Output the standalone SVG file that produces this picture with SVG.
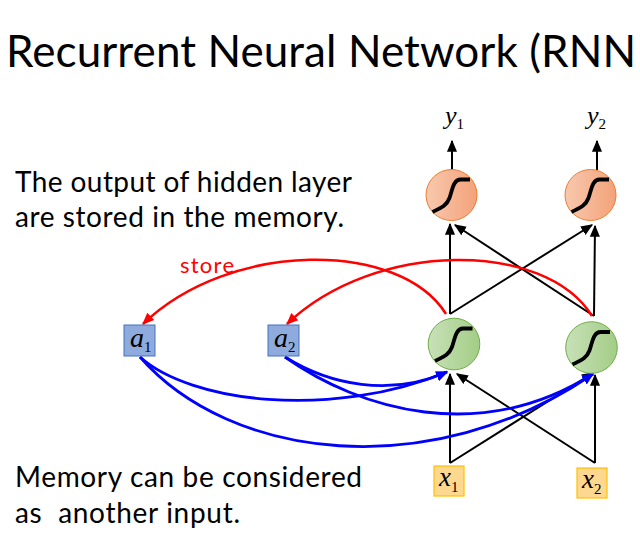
<svg xmlns="http://www.w3.org/2000/svg" width="640" height="534" viewBox="0 0 640 534">
<style>
.t{font-family:Lato,"Open Sans","Liberation Sans",sans-serif;fill:#000}
.m{font-family:"Liberation Serif","Times New Roman",serif;fill:#000}
.mi{font-style:italic}
.blk{stroke:#000;stroke-width:2;fill:none}
.red{stroke:#ff0000;stroke-width:2.5;fill:none}
.blu{stroke:#0000ff;stroke-width:2.8;fill:none}
.sig{stroke:#000;stroke-width:3.8;fill:none}
.gc{fill:url(#gg);stroke:#70ad47;stroke-width:1}
.oc{fill:url(#og);stroke:#ed7d31;stroke-width:1}
.ab{fill:#8faadc;stroke:#4472c4;stroke-width:1}
.xb{fill:#ffd88f;stroke:#ffc000;stroke-width:1.2}
</style>
<defs>
<linearGradient id="gg" x1="0" y1="0" x2="1" y2="0"><stop offset="0" stop-color="#c8e1b8"/><stop offset="1" stop-color="#a3cd86"/></linearGradient>
<linearGradient id="og" x1="0" y1="0" x2="1" y2="0"><stop offset="0" stop-color="#f8c9ae"/><stop offset="1" stop-color="#f3a27a"/></linearGradient>
<marker id="ak" markerUnits="userSpaceOnUse" markerWidth="12" markerHeight="12" viewBox="0 0 10 10" refX="9" refY="5" orient="auto"><path d="M0,0.8 L10,5 L0,9.2 z" fill="#000"/></marker>
<marker id="ar" markerUnits="userSpaceOnUse" markerWidth="12" markerHeight="12" viewBox="0 0 10 10" refX="9" refY="5" orient="auto"><path d="M0,0.8 L10,5 L0,9.2 z" fill="#ff0000"/></marker>
<marker id="ab" markerUnits="userSpaceOnUse" markerWidth="12" markerHeight="12" viewBox="0 0 10 10" refX="9" refY="5" orient="auto"><path d="M0,0.8 L10,5 L0,9.2 z" fill="#0000ff"/></marker>
<path id="sg" class="sig" d="M-19,17 C-11,13 -5,11 -2,3 C1,-6 2,-15.5 9,-15.5 L18.5,-15.5"/>
</defs>

<text class="t" x="6" y="67" font-size="44" textLength="630" lengthAdjust="spacing">Recurrent Neural Network (RNN</text>
<text class="t" x="15" y="192" font-size="28" textLength="337" lengthAdjust="spacing">The output of hidden layer</text>
<text class="t" x="15" y="227" font-size="28" textLength="329" lengthAdjust="spacing">are stored in the memory.</text>
<text class="t" x="15" y="487" font-size="28" textLength="347" lengthAdjust="spacing">Memory can be considered</text>
<text class="t" x="15" y="523" font-size="28" textLength="225" lengthAdjust="spacing" style="white-space:pre" xml:space="preserve">as  another input.</text>

<g id="connectors">
<line class="blk" x1="452" y1="170" x2="452" y2="141" marker-end="url(#ak)"/>
<line class="blk" x1="597" y1="170" x2="597" y2="141" marker-end="url(#ak)"/>
<line class="blk" x1="450" y1="314" x2="450" y2="224" marker-end="url(#ak)"/>
<line class="blk" x1="450" y1="314" x2="592" y2="225" marker-end="url(#ak)"/>
<line class="blk" x1="594" y1="316" x2="595" y2="226" marker-end="url(#ak)"/>
<line class="blk" x1="594" y1="316" x2="455" y2="225" marker-end="url(#ak)"/>
<line class="blk" x1="450" y1="463" x2="450" y2="374" marker-end="url(#ak)"/>
<line class="blk" x1="450" y1="463" x2="593" y2="373" marker-end="url(#ak)"/>
<line class="blk" x1="595" y1="463" x2="595" y2="375" marker-end="url(#ak)"/>
<line class="blk" x1="595" y1="463" x2="457" y2="374" marker-end="url(#ak)"/>
<path class="red" d="M446,314 C400,240 230,240 143,324" marker-end="url(#ar)"/>
<path class="red" d="M592,316 C545,240 375,240 287,324" marker-end="url(#ar)"/>
<path class="blu" d="M140,357 C190,402 330,420 447,372" marker-end="url(#ab)"/>
<path class="blu" d="M140,357 C230,460 430,485 593,374" marker-end="url(#ab)"/>
<path class="blu" d="M285,357 C330,385 390,397 447,372" marker-end="url(#ab)"/>
<path class="blu" d="M285,357 C360,410 480,445 593,374" marker-end="url(#ab)"/>
</g>

<text x="180" y="273" font-size="22" textLength="54" lengthAdjust="spacing" style="font-family:Lato,'Open Sans','Liberation Sans',sans-serif;fill:#ff0000">store</text>

<g id="y1"><text class="m" x="445" y="124"><tspan class="mi" font-size="26">y</tspan><tspan font-size="15" dy="5">1</tspan></text></g>
<g id="y2"><text class="m" x="587" y="124"><tspan class="mi" font-size="26">y</tspan><tspan font-size="15" dy="5">2</tspan></text></g>

<g id="o1"><circle class="oc" cx="451.5" cy="195" r="25.5"/><use href="#sg" transform="translate(451.5,195)"/></g>
<g id="o2"><circle class="oc" cx="590.5" cy="195" r="25.5"/><use href="#sg" transform="translate(590.5,195)"/></g>

<g id="h1"><circle class="gc" cx="454" cy="344" r="25.8"/><use href="#sg" transform="translate(454,344)"/></g>
<g id="h2"><circle class="gc" cx="591.5" cy="347.5" r="25.8"/><use href="#sg" transform="translate(591.5,347.5)"/></g>

<g id="a1"><rect class="ab" x="124" y="325" width="31" height="31"/><text class="m" x="130" y="347"><tspan class="mi" font-size="28">a</tspan><tspan font-size="15" dy="5">1</tspan></text></g>
<g id="a2"><rect class="ab" x="268" y="325" width="31" height="31"/><text class="m" x="274" y="347"><tspan class="mi" font-size="28">a</tspan><tspan font-size="15" dy="5">2</tspan></text></g>

<g id="x1"><rect class="xb" x="434" y="466" width="30" height="30"/><text class="m" x="439" y="486"><tspan class="mi" font-size="27">x</tspan><tspan font-size="15" dy="6">1</tspan></text></g>
<g id="x2"><rect class="xb" x="577" y="468" width="30" height="30"/><text class="m" x="582" y="488"><tspan class="mi" font-size="27">x</tspan><tspan font-size="15" dy="6">2</tspan></text></g>
</svg>
